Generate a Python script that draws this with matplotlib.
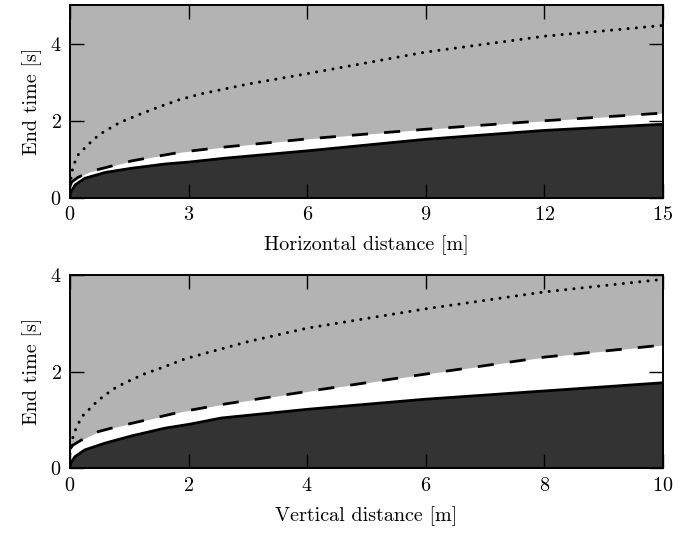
import matplotlib
matplotlib.use("Agg")
import matplotlib.pyplot as plt

plt.rcParams['font.family'] = ['cmr10', 'DejaVu Serif']
plt.rcParams['axes.formatter.use_mathtext'] = True
plt.rcParams['font.size'] = 14.5

DARK = '#333333'
GREY = '#b3b3b3'

# horizontal case
h_x_solid = [0, 0.01, 0.13, 0.38, 0.89, 1.56, 2.41, 3.01, 3.92, 6, 9, 12, 15]
h_solid = [0, 0.12, 0.34, 0.51, 0.66, 0.77, 0.88, 0.93, 1.03, 1.22, 1.52, 1.75, 1.91]
h_x_dash = [0, 0.05, 0.2, 0.46, 0.72, 1.56, 2.15, 2.83, 3.92, 6, 9, 12, 15]
h_dash = [0.32, 0.42, 0.53, 0.66, 0.74, 0.96, 1.07, 1.19, 1.32, 1.53, 1.78, 2.0, 2.2]
h_x_dot = [0, 0.03, 0.08, 0.21, 0.4, 0.59, 0.8, 1.27, 1.77, 2.28, 2.78, 3.33,
           4.5, 6, 7.5, 9, 12, 15]
h_dot = [0.3, 0.55, 0.83, 1.12, 1.32, 1.51, 1.68, 1.96, 2.17, 2.37, 2.55, 2.7,
         2.95, 3.22, 3.5, 3.78, 4.19, 4.47]

# vertical case
v_x_solid = [0, 0.01, 0.084, 0.25, 0.59, 1.04, 1.6, 2.01, 2.55, 4, 6, 8, 10]
v_solid = [0, 0.1, 0.24, 0.38, 0.52, 0.67, 0.83, 0.91, 1.04, 1.22, 1.43, 1.6, 1.77]
v_x_dash = [0, 0.05, 0.2, 0.48, 0.76, 1.32, 1.88, 2.61, 4, 6, 8, 10]
v_dash = [0.4, 0.48, 0.59, 0.76, 0.85, 1.01, 1.17, 1.33, 1.59, 1.95, 2.3, 2.55]
v_x_dot = [0, 0.056, 0.13, 0.21, 0.34, 0.47, 0.62, 0.76, 0.93, 1.25, 1.59,
           1.93, 2.28, 3, 4, 5, 6, 8, 10]
v_dot = [0.3, 0.69, 0.9, 1.08, 1.24, 1.4, 1.54, 1.66, 1.77, 1.95, 2.1,
         2.26, 2.38, 2.62, 2.9, 3.1, 3.3, 3.65, 3.91]


def panel(ax, xs, ys, xd, yd, xt, yt, xmax, ymax, xticks, yticks, xlabel):
    ax.set_facecolor(GREY)
    ax.fill_between(xd, 0, yd, color='white', lw=0)
    ax.fill_between(xs, 0, ys, color=DARK, lw=0)
    ax.plot(xs, ys, color='black', lw=2)
    ax.plot(xd, yd, color='black', lw=2, ls=(0, (5.8, 5.8)))
    ax.plot(xt, yt, color='black', lw=2.2, ls=(0, (0.01, 2.7)),
            dash_capstyle='round')
    ax.set_xlim(0, xmax)
    ax.set_ylim(0, ymax)
    ax.set_xticks(xticks)
    ax.set_yticks(yticks)
    ax.tick_params(direction='in', top=True, right=True, length=10, width=1,
                   pad=6)
    for s in ax.spines.values():
        s.set_linewidth(1.4)
    ax.set_xlabel(xlabel, labelpad=8)
    ax.set_ylabel('End time [s]', labelpad=6)


fig = plt.figure(figsize=(6.99, 5.35), dpi=100)
ax1 = fig.add_axes([0.1001, 0.630, 0.8484, 0.3607])
ax2 = fig.add_axes([0.1001, 0.1247, 0.8484, 0.3613])

panel(ax1, h_x_solid, h_solid, h_x_dash, h_dash, h_x_dot, h_dot, 15, 5,
      [0, 3, 6, 9, 12, 15], [0, 2, 4], 'Horizontal distance [m]')
panel(ax2, v_x_solid, v_solid, v_x_dash, v_dash, v_x_dot, v_dot, 10, 4,
      [0, 2, 4, 6, 8, 10], [0, 2, 4], 'Vertical distance [m]')

fig.savefig('out.png', dpi=100)
